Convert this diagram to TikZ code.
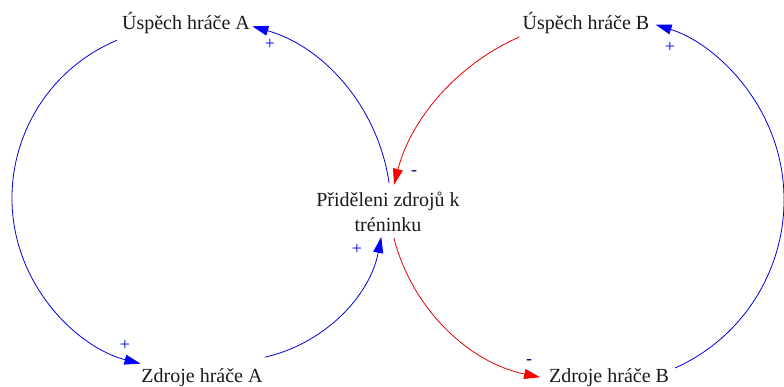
\documentclass[tikz,border=0pt]{standalone}
\usepackage{fontspec}
\setmainfont{Liberation Serif}
\usetikzlibrary{arrows.meta,calc}
\begin{document}
\begin{tikzpicture}[x=1pt,y=1pt,
  var/.style={font=\fontsize{20}{25}\selectfont, inner sep=0pt, text=black!90},
  sgn/.style={font=\fontsize{18}{18}\selectfont, inner sep=0pt, text=blue},
  sgnneg/.style={font=\fontsize{18}{18}\selectfont, inner sep=0pt, text=blue!45!black},
  lnkblue/.style={draw=blue!85!black, line width=0.8pt, -{Triangle[length=16pt,width=10pt,fill=blue,color=blue]}},
  lnkred/.style={draw=red!90!black, line width=0.8pt, -{Triangle[length=16pt,width=10pt,fill=red,color=red]}},
]
\useasboundingbox (0,0) rectangle (784,-387);

% variables
\node[var, anchor=base] (UA) at (186,-30) {Úspěch hráče A};
\node[var, anchor=base] (UB) at (586,-30) {Úspěch hráče B};
\node[var, anchor=base] (ZA) at (202,-382) {Zdroje hráče A};
\node[var, anchor=base] (ZB) at (609,-382) {Zdroje hráče B};
\node[var, align=center] (PZ) at (388,-212) {Přiděleni zdrojů k\\tréninku};

% arc centres
\coordinate (c1) at (183,-198);
\coordinate (c2) at (231,-208);
\coordinate (c3) at (200,-210);
\coordinate (c4) at (609,-240);
\coordinate (c5) at (578,-191);
\coordinate (c6) at (600,-200);

% connector start points
\coordinate (s1) at ($(c1)+(112.7:171)$);
\coordinate (s2) at ($(c2)+(-77.2:153)$);
\coordinate (s3) at ($(c3)+(8.2:191)$);
\coordinate (s4) at ($(c4)+(113.8:222)$);
\coordinate (s5) at ($(c5)+(194.3:190)$);
\coordinate (s6) at ($(c6)+(-65.9:184)$);

% left loop
\draw[lnkblue] (s1) arc[start angle=112.7, end angle=255.6, radius=171pt];
\draw[lnkblue] (s2) arc[start angle=-77.2, end angle=-10.9, radius=153pt];
\draw[lnkblue] (s3) arc[start angle=8.2, end angle=74.1, radius=191pt];

% right loop
\draw[lnkred] (s4) arc[start angle=113.8, end angle=165.6, radius=222pt];
\draw[lnkred] (s5) arc[start angle=194.3, end angle=258.5, radius=190pt];
\draw[lnkblue] (s6) arc[start angle=-65.9, end angle=72.4, radius=184pt];

% polarities
\node[sgn] (p1) at (270,-44) {+};
\node[sgn] (p2) at (357,-249) {+};
\node[sgn] (p3) at (125,-345) {+};
\node[sgn] (p4) at (670,-47) {+};
\node[sgnneg] (m1) at (414,-173) {-};
\node[sgnneg] (m2) at (529,-362) {-};
\end{tikzpicture}
\end{document}
